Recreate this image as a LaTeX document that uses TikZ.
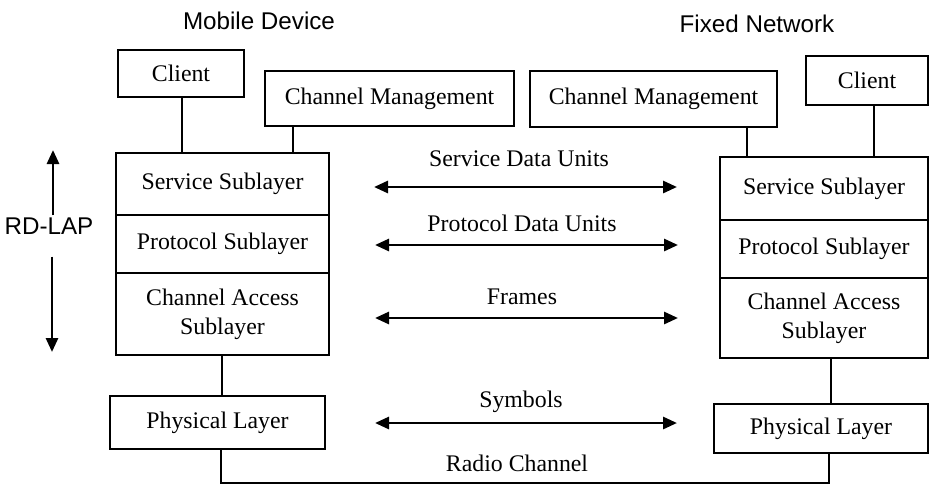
\documentclass[tikz,border=0pt]{standalone}
\usepackage{fontspec}
\setmainfont{Liberation Serif}
\newfontfamily\headfont{Liberation Sans}
\usetikzlibrary{arrows.meta}
\begin{document}
\begin{tikzpicture}[x=0.5pt,y=-0.5pt,
  box/.style={draw, line width=0.9pt, inner sep=0pt, align=center,
    font=\fontsize{11.9}{14.5}\selectfont},
  phys/.style={box, line width=1.3pt},
  link/.style={line width=0.9pt},
  flow/.style={line width=1.4pt,
    {Triangle[length=7pt,width=6pt]}-{Triangle[length=7pt,width=6pt]}},
  updown/.style={line width=1.4pt, -{Triangle[length=7pt,width=6pt]}},
  lbl/.style={inner sep=0pt, font=\fontsize{11.9}{14.5}\selectfont},
  head/.style={inner sep=0pt, font=\headfont\fontsize{12.1}{14}\selectfont}]
\useasboundingbox (0,0) rectangle (929,487);

% headings
\node[head] (tMobile) at (259,21) {Mobile Device};
\node[head] (tFixed) at (757,24) {Fixed Network};

% mobile device side
\node[box, minimum width=63pt, minimum height=23.5pt] (lClient) at (181,73.5) {Client};
\node[box, minimum width=124.5pt, minimum height=27.5pt] (lCM) at (389.5,98.5) {Channel Management};
\node[box, minimum width=106.5pt, minimum height=31pt] (lServ) at (222.5,184) {Service Sublayer};
\node[box, minimum width=106.5pt, minimum height=29pt] (lProt) at (222.5,244) {Protocol Sublayer};
\node[box, minimum width=106.5pt, minimum height=41pt] (lChan) at (222.5,314) {Channel Access\\Sublayer};
\node[phys, minimum width=107.5pt, minimum height=26.5pt] (lPhys) at (217.5,422.5) {Physical Layer};

% fixed network side
\node[box, minimum width=123.5pt, minimum height=28pt] (rCM) at (653.5,99) {Channel Management};
\node[box, minimum width=61pt, minimum height=24.5pt] (rClient) at (867,80.5) {Client};
\node[box, minimum width=104pt, minimum height=31.5pt] (rServ) at (824,188.5) {Service Sublayer};
\node[box, minimum width=104pt, minimum height=29pt] (rProt) at (824,249) {Protocol Sublayer};
\node[box, minimum width=104pt, minimum height=40pt] (rChan) at (824,318) {Channel Access\\Sublayer};
\node[phys, minimum width=107pt, minimum height=24.5pt] (rPhys) at (821,428.5) {Physical Layer};

% vertical links
\draw[link] ([xshift=0.5pt]lClient.south) -- ([xshift=0.5pt]lClient.south |- lServ.north);
\draw[link] ([xshift=14.5pt]lCM.south west) -- ([xshift=14.5pt]lCM.south west |- lServ.north);
\draw[link] ([xshift=-15.5pt]rCM.south east) -- ([xshift=-15.5pt]rCM.south east |- rServ.north);
\draw[link] ([xshift=3.5pt]rClient.south) -- ([xshift=3.5pt]rClient.south |- rServ.north);
\draw[link] ([xshift=-0.25pt]lChan.south) -- ([xshift=-0.25pt]lChan.south |- lPhys.north);
\draw[link] ([xshift=3.5pt]rChan.south) -- ([xshift=3.5pt]rChan.south |- rPhys.north);

% radio channel
\coordinate (radioEnd) at (829,483);
\draw[link] ([xshift=1.75pt]lPhys.south) |- (radioEnd) -- (radioEnd |- rPhys.south);
\node[lbl] (radio) at (517,463) {Radio Channel};

% peer exchanges
\coordinate (sduL) at (374,187);   \coordinate (sduR) at (677,187);
\coordinate (pduL) at (375,245);   \coordinate (pduR) at (678,245);
\coordinate (frmL) at (375,318);   \coordinate (frmR) at (678,318);
\coordinate (symL) at (375,423);   \coordinate (symR) at (677,423);
\draw[flow] (sduL) -- (sduR);
\draw[flow] (pduL) -- (pduR);
\draw[flow] (frmL) -- (frmR);
\draw[flow] (symL) -- (symR);
\node[lbl] (sdu) at (519,159) {Service Data Units};
\node[lbl] (pdu) at (522,223) {Protocol Data Units};
\node[lbl] (frm) at (522,297) {Frames};
\node[lbl] (sym) at (521,402) {Symbols};

% RD-LAP span
\node[head] (rdlap) at (49,226) {RD-LAP};
\coordinate (upTip) at (53,150);
\coordinate (downTip) at (52,352);
\draw[updown] ([yshift=1pt]rdlap.north -| upTip) -- (upTip);
\draw[updown] ([yshift=-11pt]rdlap.south -| downTip) -- (downTip);
\end{tikzpicture}
\end{document}
